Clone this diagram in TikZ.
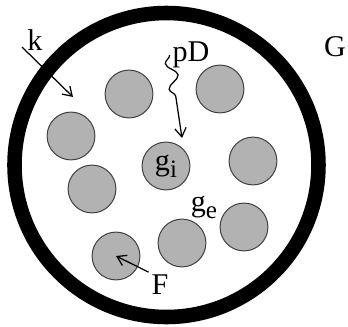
\documentclass[tikz,border=0pt]{standalone}
\usepackage{fontspec}
\setmainfont{Liberation Serif}
\usetikzlibrary{arrows.meta,decorations.pathmorphing}

\begin{document}
\begin{tikzpicture}[x=0.014cm,y=-0.014cm,
  grain/.style={circle,draw=black!75,line width=0.4pt,fill=gray!60,minimum size=0.67cm,inner sep=0pt},
  lbl/.style={inner sep=1pt,font=\large},
  barb/.style={-{Straight Barb[length=3.5pt,width=4.5pt]},line width=0.5pt}]
  \useasboundingbox (0,0) rectangle (348,327);
  % outer wall
  \draw[line width=5.8pt] (166.5,165) circle (152);
  % grains
  \node[grain] (g1) at (129,94) {};
  \node[grain] (g2) at (220,89) {};
  \node[grain] (g3) at (71,136) {};
  \node[grain,font=\large] (g4) at (166,166) {g\raisebox{-0.5ex}{\normalsize i}};
  \node[grain] (g5) at (253,161) {};
  \node[grain] (g6) at (92,189) {};
  \node[grain] (g7) at (244,227) {};
  \node[grain] (g8) at (182,243) {};
  \node[grain] (g9) at (116,256) {};
  % labels
  \node[lbl] (k) at (35,40) {k};
  \node[lbl] (G) at (335,47) {G};
  \node[lbl] (pD) at (191,55) {pD};
  \node[lbl] (ge) at (204,207) {g\raisebox{-0.5ex}{\normalsize e}};
  \node[lbl] (F) at (160,285) {F};
  % arrows
  \coordinate (k0) at (22,47);
  \coordinate (k1) at (73,97);
  \draw[barb] (k0) -- (k1);
  \coordinate (pD1) at (182,138);
  \draw[barb,decorate,decoration={snake,mirror,segment length=0.36cm,amplitude=2.2pt,post length=12pt}] (pD.west) -- (pD1);
  \draw[barb] (F.north west) -- (g9.center);
\end{tikzpicture}
\end{document}
